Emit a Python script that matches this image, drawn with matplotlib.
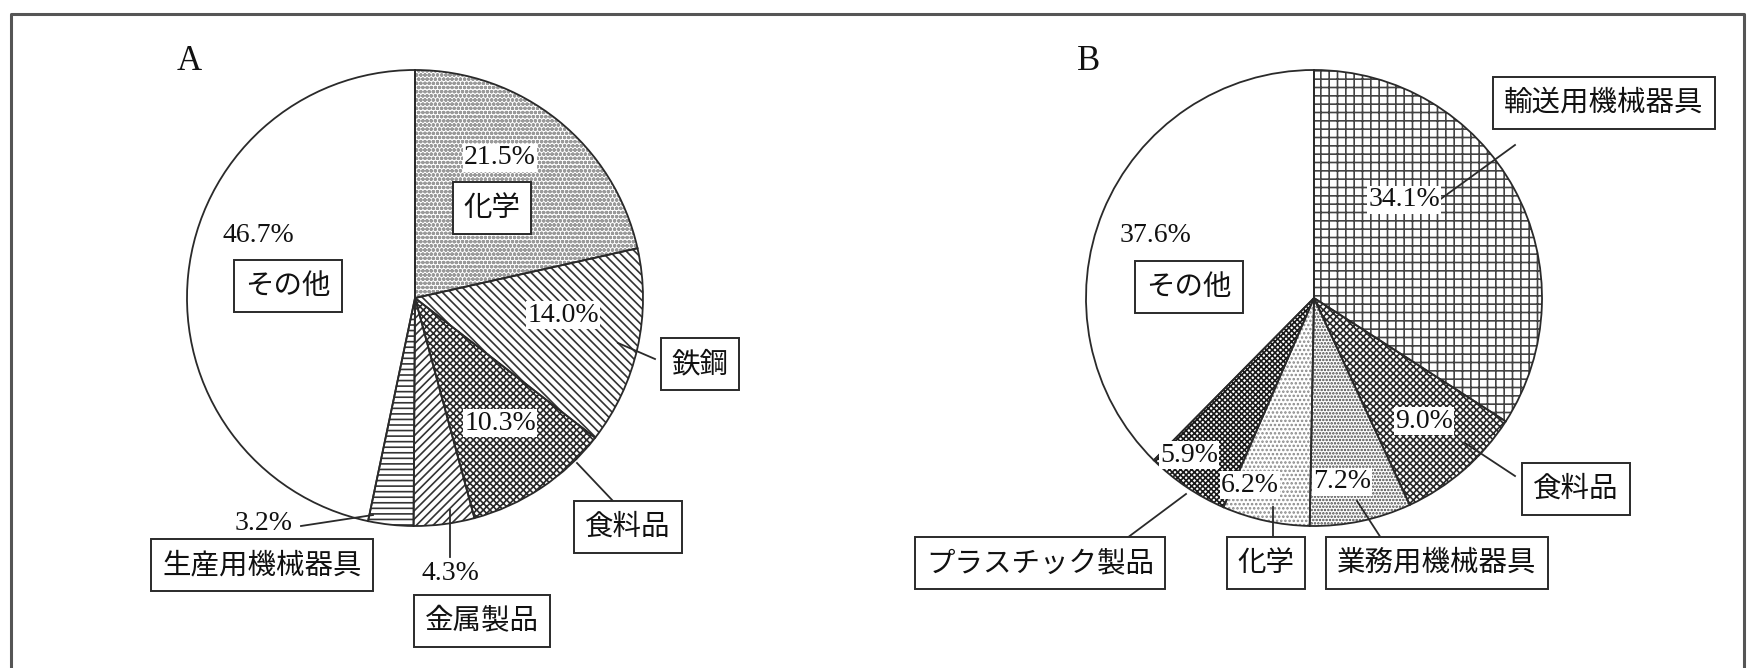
import matplotlib
matplotlib.use('Agg')
import matplotlib.pyplot as plt

# chart values
labels_a = ['化学', '鉄鋼', '食料品', '金属製品', '生産用機械器具', 'その他']
values_a = [21.5, 14.0, 10.3, 4.3, 3.2, 46.7]
labels_b = ['輸送用機械器具', '食料品', '業務用機械器具', '化学', 'プラスチック製品', 'その他']
values_b = [34.1, 9.0, 7.2, 6.2, 5.9, 37.6]

plt.rcParams['font.family'] = ['Noto Sans CJK JP', 'DejaVu Sans']
plt.rcParams['hatch.linewidth'] = 1.2

W, H = 1747, 668
fig = plt.figure(figsize=(W / 100, H / 100), dpi=100)
ax = fig.add_axes([0, 0, 1, 1])


def Y(y):
    # pixel row (from top) -> data y (from bottom)
    return H - y


def draw_pie(center, values, labels, hatches, hcolors, pct_pos, box_pos, leaders):
    c = (center[0], Y(center[1]))
    r = 228
    # hatched fill
    wedges, _ = ax.pie(values, startangle=90, counterclock=False, center=c,
                       radius=r, frame=True, colors=['white'] * len(values))
    for w, h, hc in zip(wedges, hatches, hcolors):
        w.set_hatch(h)
        w.set_edgecolor(hc)
        w.set_linewidth(0)
    # outlines
    ax.pie(values, startangle=90, counterclock=False, center=c,
           radius=r, frame=True,
           wedgeprops=dict(fill=False, edgecolor='#2a2a2a', linewidth=1.3))
    for v, lab, pp, bp, ld in zip(values, labels, pct_pos, box_pos, leaders):
        if ld is not None:
            (x0, y0), (x1, y1) = ld
            ax.plot([x0, x1], [Y(y0), Y(y1)], color='#2a2a2a', lw=1.3)
        ax.text(pp[0], Y(pp[1]), f'{v:.1f}%', family='Liberation Serif',
                fontsize=20, ha='center', va='center', color='#111111',
                bbox=dict(boxstyle='square,pad=0.05', fc='white', ec='none'))
        ax.text(bp[0], Y(bp[1]), lab, fontsize=20.5, ha='center', va='center',
                color='#111111',
                bbox=dict(boxstyle='square,pad=0.38', fc='white', ec='#2a2a2a', lw=1.4))


# pie A
draw_pie((415, 298), values_a, labels_a,
         ['oooo', '\\\\\\\\', 'xxxxx', '////', '---', ''],
         ['#9a9a9a', '#333333', '#2a2a2a', '#333333', '#333333', 'white'],
         [(500, 158), (563, 315), (500, 423), (450, 574), (264, 524), (258, 236)],
         [(492, 208), (700, 364), (628, 527), (482, 621), (262, 565), (288, 286)],
         [None, ((618, 343), (655, 359)), ((577, 463), (613, 501)),
          ((450, 510), (450, 557)), ((301, 526), (373, 515)), None])

# pie B
draw_pie((1314, 298), values_b, labels_b,
         ['++', 'xxxxx', '.....', '....', 'xxxxxx', ''],
         ['#444444', '#2a2a2a', '#444444', '#888888', '#1a1a1a', 'white'],
         [(1404, 200), (1424, 421), (1342, 482), (1250, 485), (1189, 455), (1156, 236)],
         [(1604, 103), (1576, 489), (1437, 563), (1266, 563), (1040, 563), (1189, 287)],
         [((1431, 206), (1515, 145)), ((1465, 443), (1515, 476)),
          ((1357, 501), (1381, 538)), ((1273, 507), (1273, 538)),
          ((1186, 494), (1127, 538)), None])

ax.text(189, Y(61), 'A', family='Liberation Serif', fontsize=25, ha='center', va='center', color='#111111')
ax.text(1089, Y(61), 'B', family='Liberation Serif', fontsize=25, ha='center', va='center', color='#111111')

# surrounding frame (open at the bottom)
ax.plot([11, 11, 1744, 1744], [0, Y(14), Y(14), 0], color='#555555', lw=2.2)

ax.set_xlim(0, W)
ax.set_ylim(0, H)
ax.set_aspect('equal')
ax.axis('off')

fig.savefig('out.png', dpi=100)
